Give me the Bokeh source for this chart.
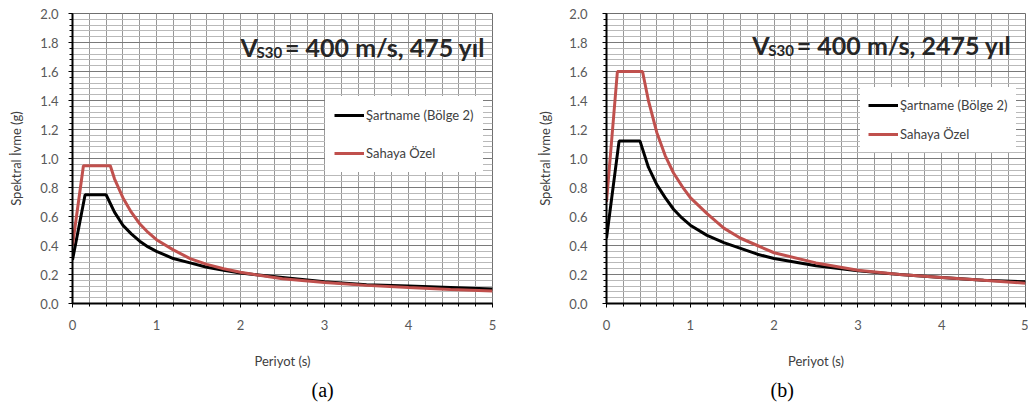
from bokeh.plotting import figure
from bokeh.layouts import row
from bokeh.models import (FixedTicker, Range1d, Label, Title, Legend, LegendItem,
                          PrintfTickFormatter)
from bokeh.embed import file_html
from bokeh.resources import INLINE

# Response spectra, period (s) vs spectral acceleration (g)
# (a) VS30 = 400 m/s, 475-year return period
period_code_475 = [0.0, 0.15, 0.40, 0.5, 0.6, 0.7, 0.8, 0.9, 1.0, 1.2, 1.4, 1.6, 1.8, 2.0, 2.5, 3.0, 3.5, 4.0, 4.5, 5.0]
sa_code_475 = [0.30, 0.75, 0.75, 0.63, 0.54, 0.48, 0.43, 0.39, 0.36, 0.31, 0.28, 0.25, 0.23, 0.21, 0.18, 0.15, 0.13, 0.12, 0.11, 0.10]
period_site_475 = [0.0, 0.13, 0.45, 0.5, 0.6, 0.7, 0.8, 0.9, 1.0, 1.2, 1.4, 1.6, 1.8, 2.0, 2.5, 3.0, 3.5, 4.0, 4.5, 5.0]
sa_site_475 = [0.40, 0.95, 0.95, 0.86, 0.73, 0.63, 0.55, 0.49, 0.44, 0.37, 0.31, 0.27, 0.24, 0.215, 0.17, 0.145, 0.125, 0.11, 0.097, 0.087]

# (b) VS30 = 400 m/s, 2475-year return period
period_code_2475 = [0.0, 0.15, 0.40, 0.5, 0.6, 0.7, 0.8, 0.9, 1.0, 1.2, 1.4, 1.6, 1.8, 2.0, 2.5, 3.0, 3.5, 4.0, 4.5, 5.0]
sa_code_2475 = [0.45, 1.12, 1.12, 0.94, 0.82, 0.73, 0.65, 0.59, 0.54, 0.47, 0.42, 0.38, 0.34, 0.31, 0.26, 0.225, 0.20, 0.18, 0.16, 0.15]
period_site_2475 = [0.0, 0.13, 0.43, 0.5, 0.6, 0.7, 0.8, 0.9, 1.0, 1.2, 1.4, 1.6, 1.8, 2.0, 2.5, 3.0, 3.5, 4.0, 4.5, 5.0]
sa_site_2475 = [0.70, 1.60, 1.60, 1.40, 1.18, 1.02, 0.90, 0.81, 0.73, 0.62, 0.52, 0.45, 0.40, 0.35, 0.28, 0.23, 0.20, 0.18, 0.16, 0.14]

x_ticks = [0, 1, 2, 3, 4, 5]
y_ticks = [0.0, 0.2, 0.4, 0.6, 0.8, 1.0, 1.2, 1.4, 1.6, 1.8, 2.0]
series_names = ["Şartname (Bölge 2)", "Sahaya Özel"]

FONT = "Lato"
GREY_TXT = "#595959"
RED = "#c0504d"


def make_panel(width, border_left, border_right, border_top,
               code_t, code_sa, site_t, site_sa, years,
               caption, caption_offset, head_pos, legend_loc, legend_spacing,
               legend_padding, tick_standoff_y):
    p = figure(width=width, height=414, x_range=Range1d(0, 5), y_range=Range1d(0, 2),
               output_backend="svg", toolbar_location=None,
               min_border_left=border_left, min_border_right=border_right,
               min_border_top=border_top, min_border_bottom=111)
    p.background_fill_color = "white"
    p.border_fill_color = "white"
    p.outline_line_color = "#6f6f6f"
    p.outline_line_width = 1

    # grid: verticals every 0.2 s, horizontals every 0.2 g with 0.04 g minors
    p.xgrid.ticker = FixedTicker(ticks=[round(0.2 * k, 2) for k in range(26)])
    p.xgrid.grid_line_color = "#989898"
    p.xgrid.grid_line_width = 1
    p.ygrid.ticker = FixedTicker(ticks=y_ticks,
                                 minor_ticks=[round(0.04 * k, 2) for k in range(51)])
    p.ygrid.grid_line_color = "#7a7a7a"
    p.ygrid.minor_grid_line_color = "#b9b9b9"

    p.xaxis.ticker = FixedTicker(ticks=x_ticks,
                                 minor_ticks=[round(0.2 * k, 2) for k in range(26)])
    p.yaxis.ticker = FixedTicker(ticks=y_ticks,
                                 minor_ticks=[round(0.04 * k, 2) for k in range(51)])
    p.yaxis.formatter = PrintfTickFormatter(format="%.1f")

    for ax in (p.xaxis[0], p.yaxis[0]):
        ax.axis_line_color = "black"
        ax.axis_line_width = 2
        ax.major_tick_line_color = "black"
        ax.minor_tick_line_color = "black"
        ax.major_tick_in = 0
        ax.major_tick_out = 4
        ax.minor_tick_in = 0
        ax.minor_tick_out = 3
        ax.major_label_text_font = FONT
        ax.major_label_text_font_size = "13px"
        ax.major_label_text_color = GREY_TXT
        ax.axis_label_text_font = FONT
        ax.axis_label_text_font_size = "13px"
        ax.axis_label_text_font_style = "normal"
        ax.axis_label_text_color = "#404040"

    p.xaxis.axis_label = "Periyot (s)"
    p.xaxis.major_label_standoff = 12
    p.xaxis.axis_label_standoff = 20
    p.yaxis.axis_label = "Spektral İvme (g)"
    p.yaxis.major_label_standoff = tick_standoff_y
    p.yaxis.axis_label_standoff = 13

    r_code = p.line(code_t, code_sa, line_color="black", line_width=3)
    r_site = p.line(site_t, site_sa, line_color=RED, line_width=3)

    legend = Legend(items=[LegendItem(label=series_names[0], renderers=[r_code]),
                           LegendItem(label=series_names[1], renderers=[r_site])],
                    location=legend_loc, margin=0, padding=legend_padding,
                    spacing=legend_spacing, glyph_width=30, glyph_height=20,
                    label_standoff=2, label_text_font=FONT,
                    label_text_font_size="13px", label_text_color="#404040",
                    background_fill_color="white", background_fill_alpha=1.0,
                    border_line_alpha=0.0)
    p.add_layout(legend, "center")

    # heading inside the plot: V_S30 = 400 m/s, N yıl
    hx, sx, ex, base, sub = head_pos
    head_style = dict(text_font=FONT, text_font_style="bold", text_color="#262626",
                      text_baseline="alphabetic")
    p.add_layout(Label(x=hx, y=base, text="V", text_font_size="25px", **head_style))
    p.add_layout(Label(x=sx, y=sub, text="S30", text_font_size="15px", **head_style))
    p.add_layout(Label(x=ex, y=base, text=f"= 400 m/s, {years} yıl",
                       text_font_size="25px", **head_style))

    cap = Title(text=caption, align="left", offset=caption_offset,
                text_font="Liberation Serif", text_font_size="20px",
                text_font_style="normal", text_color="black")
    p.add_layout(cap, "below")
    return p


pa = make_panel(520, 72, 28, 12, period_code_475, sa_code_475,
                period_site_475, sa_site_475, "475", "(a)", 239,
                (2.0, 2.19, 2.53, 1.77, 1.735), (253, 131), 18, 9, 10)
pb = make_panel(508, 86, 3, 13, period_code_2475, sa_code_2475,
                period_site_2475, sa_site_2475, "2475", "(b)", 164,
                (1.74, 1.93, 2.27, 1.785, 1.745), (254, 151), 9, 8, 15)

layout = row(pa, pb)
open("out.html", "w").write(file_html(layout, INLINE))
